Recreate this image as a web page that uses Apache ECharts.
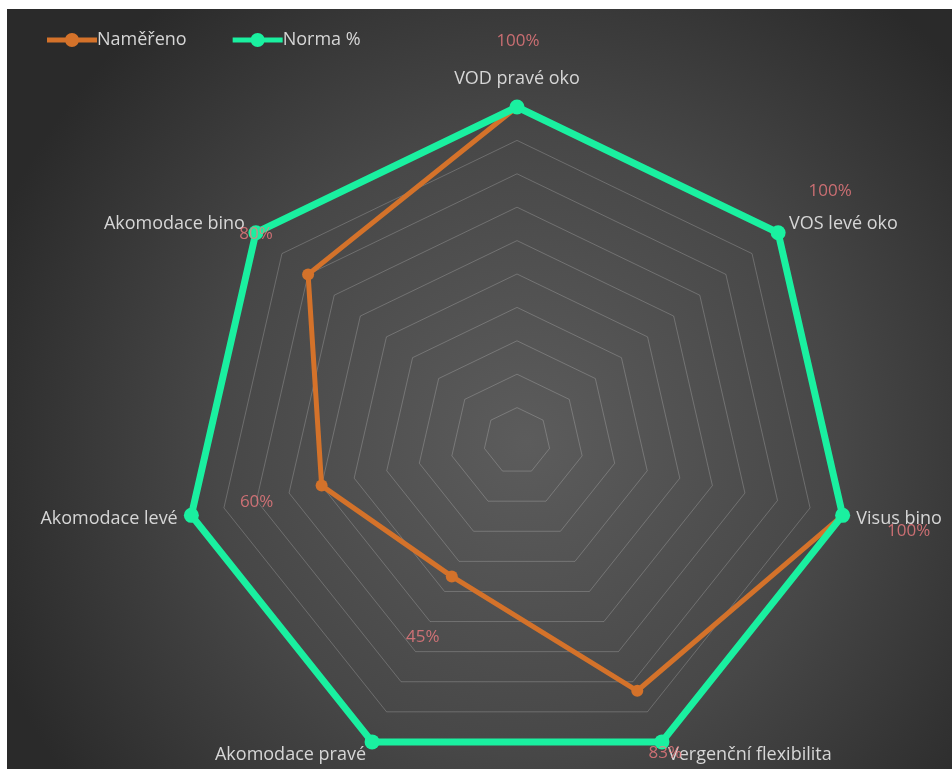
<!DOCTYPE html>
<html>
<head>
<meta charset="utf-8">
<script src="https://cdn.jsdelivr.net/npm/echarts@6/dist/echarts.min.js"></script>
<style>
  html, body { margin: 0; padding: 0; background: #ffffff; }
  #chart { position: absolute; left: 7px; top: 9px; width: 945px; height: 760px; }
</style>
</head>
<body>
<div id="chart"></div>
<script>
// Categories in clockwise order starting from the top
const categories = ['VOD pravé oko', 'VOS levé oko', 'Visus bino', 'Vergenční flexibilita', 'Akomodace pravé', 'Akomodace levé', 'Akomodace bino'];
const measured = [100, 100, 100, 83, 45, 60, 80];   // Naměřeno
const norm = [100, 100, 100, 100, 100, 100, 100];   // Norma %
const seriesNames = ['Naměřeno', 'Norma %'];
const maxValue = 100;

// label offsets (style only) for the percentage labels, px relative to each point
const labelOffsets = [[1, -66], [52, -42], [66, 16], [28, 62], [-29, 61], [-65, 17], [-52, -40]];

const CENTER = [510, 432];
const RADIUS = 334;
const ORANGE = '#d4722a';
const GREEN = '#1af0a0';
const PINK = '#ee7a7f';
const TEXT = '#d6d6d6';
const FONT = 'Open Sans';

// ECharts radar places indicators counter-clockwise; map to clockwise order
const order = [0];
for (let i = categories.length - 1; i >= 1; i--) order.push(i);
const reorder = arr => order.map(i => arr[i]);

// legend icon: thick line with a dot in the middle (50 x 14)
const legendIcon = 'path://M0,4.5L50,4.5L50,9.5L0,9.5Z' +
  'M18,7C18,3.13 21.13,0 25,0C28.87,0 32,3.13 32,7C32,10.87 28.87,14 25,14C21.13,14 18,10.87 18,7Z';

const chart = echarts.init(document.getElementById('chart'));
chart.setOption({
  animation: false,
  backgroundColor: {
    type: 'radial', x: 0.55, y: 0.57, r: 0.75,
    colorStops: [
      { offset: 0, color: '#5c5c5c' },
      { offset: 0.55, color: '#474747' },
      { offset: 1, color: '#2a2a2a' }
    ]
  },
  textStyle: { fontFamily: FONT },
  legend: {
    left: 35, top: 17,
    itemWidth: 50, itemHeight: 14, itemGap: 46,
    itemStyle: { borderWidth: 0 },
    textStyle: { color: TEXT, fontSize: 18, fontFamily: FONT, padding: [0, 0, 0, -5] },
    data: seriesNames.map(n => ({ name: n, icon: legendIcon }))
  },
  radar: {
    center: CENTER,
    radius: RADIUS,
    startAngle: 90,
    shape: 'polygon',
    splitNumber: 10,
    nameGap: 14,
    axisName: {
      color: TEXT, fontSize: 18, fontFamily: FONT,
      formatter: name => name === categories[0] ? '{top|' + name + '}' : name,
      rich: { top: { color: TEXT, fontSize: 18, fontFamily: FONT, padding: [0, 0, 5, 0] } }
    },
    axisLine: { show: false },
    axisTick: { show: false },
    axisLabel: { show: false },
    splitArea: { show: false },
    splitLine: { lineStyle: { color: 'rgba(255,255,255,0.2)', width: 1 } },
    indicator: reorder(categories).map(n => ({ name: n, min: 0, max: maxValue }))
  },
  polar: { center: CENTER, radius: RADIUS },
  angleAxis: {
    type: 'value', min: 0, max: categories.length, startAngle: 90, clockwise: true,
    show: false
  },
  radiusAxis: { type: 'value', min: 0, max: maxValue, show: false },
  series: [
    {
      type: 'radar',
      name: seriesNames[0],
      symbol: 'circle',
      symbolSize: 12,
      itemStyle: { color: ORANGE },
      lineStyle: { color: ORANGE, width: 5 },
      data: [{ name: seriesNames[0], value: reorder(measured) }],
      z: 2
    },
    {
      type: 'radar',
      name: seriesNames[1],
      symbol: 'circle',
      symbolSize: 15,
      itemStyle: { color: GREEN },
      lineStyle: { color: GREEN, width: 7 },
      data: [{ name: seriesNames[1], value: reorder(norm) }],
      z: 3
    },
    {
      type: 'scatter',
      name: 'labels',
      coordinateSystem: 'polar',
      symbolSize: 1,
      itemStyle: { color: 'rgba(0,0,0,0)' },
      silent: true,
      z: 4,
      label: {
        show: true, position: 'inside', color: PINK, fontSize: 17, fontFamily: FONT,
        formatter: p => p.data.value[0] + '%'
      },
      data: measured.map((v, i) => ({ value: [v, i], label: { offset: labelOffsets[i] } }))
    }
  ]
});
</script>
</body>
</html>
